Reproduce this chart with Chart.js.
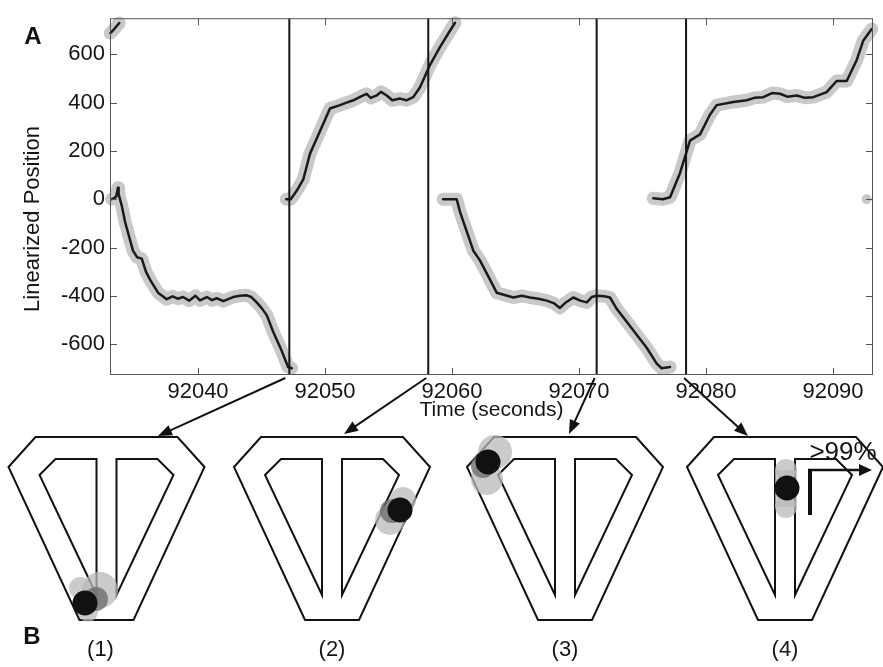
<!DOCTYPE html>
<html><head><meta charset="utf-8">
<script src="https://cdn.jsdelivr.net/npm/chart.js@4/dist/chart.umd.min.js"></script>
<style>html,body{margin:0;padding:0;background:#fff}canvas{display:block}</style>
</head><body>
<canvas id="c" width="883" height="667"></canvas>
<script>
// ---- data ----
const xTicks = [92040, 92050, 92060, 92070, 92080, 92090];
const yTicks = [-600, -400, -200, 0, 200, 400, 600];
const xRange = [92033.07, 92093.15];
const yRange = [-728, 750];
const eventTimes = [92047.19, 92058.13, 92071.39, 92078.43];
const eventLabels = ['(1)', '(2)', '(3)', '(4)'];

const seg0Time = [92033.1, 92033.4, 92033.8];
const seg0Pos  = [688, 705, 730];

const seg1Time = [92033.20, 92033.55, 92033.70, 92033.75, 92033.99, 92034.25, 92034.55, 92034.88, 92035.2, 92035.57, 92035.9, 92036.22, 92036.85, 92037.54, 92038.0, 92038.4, 92038.82, 92039.3, 92039.8, 92040.16, 92040.7, 92041.1, 92041.47, 92042.0, 92042.76, 92043.3, 92043.83, 92044.2, 92044.62, 92045.0, 92045.41, 92045.91, 92046.59, 92047.09, 92047.38];
const seg1Pos  = [0, 10, 48, 20, -25, -92, -150, -213, -240, -246, -300, -333, -387, -414, -402, -412, -405, -420, -400, -419, -405, -418, -410, -422, -405, -400, -398, -405, -427, -450, -480, -548, -628, -695, -700];

const seg2Time = [92046.95, 92047.30, 92047.77, 92048.29, 92048.82, 92049.61, 92050.39, 92051.18, 92051.7, 92052.23, 92052.8, 92053.28, 92053.6, 92054.07, 92054.4, 92054.86, 92055.3, 92055.91, 92056.4, 92056.95, 92057.48, 92057.87, 92058.27, 92059.06, 92059.84, 92060.24];
const seg2Pos  = [0, 0, 35, 82, 189, 283, 376, 390, 400, 410, 425, 437, 420, 430, 445, 430, 410, 417, 410, 423, 464, 510, 557, 631, 698, 731];

const seg3Time = [92059.3, 92060.37, 92060.63, 92061.16, 92061.68, 92062.20, 92062.99, 92063.52, 92064.83, 92065.5, 92066.14, 92066.8, 92067.46, 92068.0, 92068.50, 92068.9, 92069.55, 92070.1, 92070.61, 92071.0, 92071.39, 92072.0, 92072.44, 92072.97, 92073.76, 92074.54, 92075.33, 92076.12, 92076.5, 92077.17];
const seg3Pos  = [0, 0, -52, -133, -213, -253, -333, -387, -407, -400, -407, -412, -420, -430, -450, -430, -407, -420, -427, -405, -400, -402, -407, -454, -507, -561, -615, -681, -700, -695];

const seg4Time = [92075.85, 92076.6, 92077.17, 92077.95, 92078.74, 92079.53, 92080.31, 92080.84, 92082.15, 92083.20, 92083.8, 92084.51, 92085.2, 92085.83, 92086.4, 92087.14, 92087.8, 92088.45, 92089.50, 92090.29, 92091.08, 92091.87, 92092.39, 92093.05];
const seg4Pos  = [4, 0, 8, 108, 243, 269, 350, 390, 403, 410, 420, 423, 440, 437, 425, 430, 420, 423, 444, 490, 490, 577, 658, 705];

const strayTime = [92092.65];
const strayPos  = [0];

// ---- build datasets ----
const FONT = "'Liberation Sans', Arial, Helvetica, sans-serif";
const TEXT = '#151515';
const segments = [[seg0Time, seg0Pos], [seg1Time, seg1Pos], [seg2Time, seg2Pos], [seg3Time, seg3Pos], [seg4Time, seg4Pos]];
const toXY = (t, p) => t.map((v, i) => ({x: v, y: p[i]}));
const datasets = [];
eventTimes.forEach(t => datasets.push({
  data: [{x: t, y: yRange[0]}, {x: t, y: yRange[1]}],
  borderColor: '#151515', borderWidth: 2, pointRadius: 0, order: 1
}));
segments.forEach(([t, p]) => datasets.push({
  data: toXY(t, p), borderColor: '#1a1a1a', borderWidth: 2.5, pointRadius: 0,
  borderJoinStyle: 'round', borderCapStyle: 'round', order: 2, clip: 6
}));
segments.forEach(([t, p]) => datasets.push({
  data: toXY(t, p), borderColor: '#c9c9c9', borderWidth: 13, pointRadius: 0,
  borderJoinStyle: 'round', borderCapStyle: 'round', order: 3, clip: 8
}));
datasets.push({
  data: toXY(strayTime, strayPos), showLine: false, pointRadius: 5,
  pointBackgroundColor: '#c9c9c9', pointBorderWidth: 0, order: 3, clip: 8
});

// ---- overlay: frame, inward ticks, titles, panel B ----
function poly(ctx, cx, top, pts) {
  ctx.beginPath();
  pts.forEach(([dx, dy], i) => i ? ctx.lineTo(cx + dx, top + dy) : ctx.moveTo(cx + dx, top + dy));
  ctx.closePath(); ctx.stroke();
}
function circle(ctx, x, y, r, c) { ctx.fillStyle = c; ctx.beginPath(); ctx.arc(x, y, r, 0, Math.PI * 2); ctx.fill(); }
function arrow(ctx, x1, y1, x2, y2, w, hl, hw) {
  const a = Math.atan2(y2 - y1, x2 - x1);
  ctx.lineWidth = w; ctx.beginPath(); ctx.moveTo(x1, y1);
  ctx.lineTo(x2 - Math.cos(a) * hl * 0.8, y2 - Math.sin(a) * hl * 0.8); ctx.stroke();
  ctx.beginPath(); ctx.moveTo(x2, y2);
  ctx.lineTo(x2 - Math.cos(a) * hl - Math.sin(a) * hw, y2 - Math.sin(a) * hl + Math.cos(a) * hw);
  ctx.lineTo(x2 - Math.cos(a) * hl + Math.sin(a) * hw, y2 - Math.sin(a) * hl - Math.cos(a) * hw);
  ctx.closePath(); ctx.fill();
}

const overlay = {
  id: 'overlay',
  afterDraw(chart) {
    const {ctx, chartArea: a, scales: {x, y}} = chart;
    ctx.save();
    ctx.strokeStyle = '#555'; ctx.lineWidth = 1;
    ctx.strokeRect(a.left + 0.5, a.top + 0.5, a.right - a.left - 1, a.bottom - a.top - 1);
    ctx.beginPath();
    xTicks.forEach(v => {
      const px = Math.round(x.getPixelForValue(v)) + 0.5;
      ctx.moveTo(px, a.top); ctx.lineTo(px, a.top + 7);
      ctx.moveTo(px, a.bottom); ctx.lineTo(px, a.bottom - 7);
    });
    yTicks.forEach(v => {
      const py = Math.round(y.getPixelForValue(v)) + 0.5;
      ctx.moveTo(a.left, py); ctx.lineTo(a.left + 7, py);
      ctx.moveTo(a.right, py); ctx.lineTo(a.right - 7, py);
    });
    ctx.stroke();

    ctx.fillStyle = TEXT;
    ctx.textAlign = 'center'; ctx.textBaseline = 'middle';
    ctx.font = '22px ' + FONT;
    ctx.save(); ctx.translate(33, 219); ctx.rotate(-Math.PI / 2);
    ctx.fillText('Linearized Position', 0, 0); ctx.restore();

    ctx.font = 'bold 24px ' + FONT; ctx.fillStyle = '#111';
    ctx.fillText('A', 33, 37);
    ctx.fillText('B', 32, 637);

    // panel B mazes
    const centers = [106.5, 332, 565, 785];
    const top = 437;
    const outer = [[-71, 0], [71, 0], [98, 30], [27, 183], [-27, 183], [-98, 30]];
    const innerL = [[-51, 22], [-10, 22], [-10, 158], [-67, 38]];
    const innerR = [[10, 22], [51, 22], [67, 38], [10, 158]];
    ctx.strokeStyle = '#111'; ctx.lineWidth = 2; ctx.lineJoin = 'miter';
    centers.forEach(cx => { poly(ctx, cx, top, outer); poly(ctx, cx, top, innerL); poly(ctx, cx, top, innerR); });

    ctx.font = '22px ' + FONT; ctx.fillStyle = TEXT;
    centers.forEach((cx, i) => ctx.fillText(eventLabels[i], cx - 6 + (i === 0 ? 0 : 6), 650));

    const light = 'rgba(185,185,185,0.75)', mid = 'rgba(110,110,110,0.8)', blk = '#111';
    // (1)
    circle(ctx, 100, 590, 18, light); circle(ctx, 80, 588, 11, light); circle(ctx, 88, 612, 10, light);
    circle(ctx, 96, 599, 12, mid); circle(ctx, 85, 603, 12.5, blk);
    // (2)
    circle(ctx, 403, 500, 13, light); circle(ctx, 390, 520, 15, light);
    circle(ctx, 392, 511, 12, mid); circle(ctx, 400, 510, 12.5, blk);
    // (3)
    circle(ctx, 495, 452, 17, light); circle(ctx, 487, 479, 16, light);
    circle(ctx, 483, 466, 12, mid); circle(ctx, 488, 462, 12.5, blk);
    // (4)
    circle(ctx, 786, 470, 11, light); circle(ctx, 786, 507, 11, light);
    ctx.fillStyle = light; ctx.fillRect(775, 470, 22, 37);
    circle(ctx, 787, 488, 12.5, blk);

    ctx.font = '26px ' + FONT; ctx.fillStyle = TEXT;
    ctx.fillText('>99%', 843, 453);
    ctx.strokeStyle = '#111'; ctx.fillStyle = '#111'; ctx.lineCap = 'butt';
    ctx.lineWidth = 4; ctx.beginPath(); ctx.moveTo(810, 515); ctx.lineTo(810, 469); ctx.stroke();
    arrow(ctx, 808, 470, 872, 470, 2.5, 13, 6);

    // arrows from event lines to mazes
    const ends = [[158, 436], [344, 434], [569, 434], [748, 436]];
    eventTimes.forEach((t, i) => {
      const px = x.getPixelForValue(t);
      arrow(ctx, px - (i === 0 ? 4 : 2), a.bottom + 3, ends[i][0], ends[i][1], 2, 14, 5.5);
    });
    ctx.restore();
  }
};

new Chart(document.getElementById('c'), {
  type: 'line',
  data: {datasets},
  options: {
    responsive: false, animation: false, devicePixelRatio: 1, events: [],
    layout: {padding: {left: 0, top: 7, right: 10, bottom: 667 - 375 - 48}},
    plugins: {legend: {display: false}, tooltip: {enabled: false}},
    scales: {
      x: {
        type: 'linear', min: xRange[0], max: xRange[1],
        afterBuildTicks: s => { s.ticks = xTicks.map(v => ({value: v})); },
        afterFit: s => { s.height = 48; },
        grid: {display: false, drawTicks: false}, border: {display: false},
        ticks: {font: {size: 22, family: FONT}, color: TEXT, padding: 4, maxRotation: 0, callback: v => String(v)},
        title: {display: true, text: 'Time (seconds)', font: {size: 21, family: FONT}, color: TEXT, padding: 0}
      },
      y: {
        type: 'linear', min: yRange[0], max: yRange[1],
        afterBuildTicks: s => { s.ticks = yTicks.map(v => ({value: v})); },
        afterFit: s => { s.width = 110; },
        grid: {display: false, drawTicks: false}, border: {display: false},
        ticks: {font: {size: 22, family: FONT}, color: TEXT, padding: 5}
      }
    }
  },
  plugins: [overlay]
});
</script>
</body></html>
